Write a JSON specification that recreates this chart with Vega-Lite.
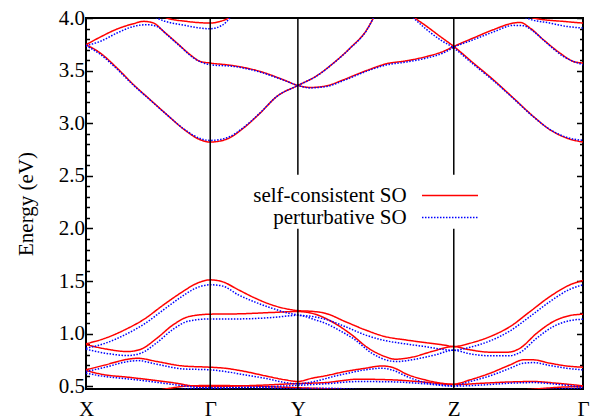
{
"$schema":"https://vega.github.io/schema/vega-lite/v6.json",
"width":497,"height":371,
"autosize":{"type":"none"},
"padding":{"left":86,"top":18,"right":19,"bottom":31},
"config":{"view":{"stroke":"black","strokeWidth":2},"font":"Liberation Serif",
"axis":{"grid":false,"domain":false,"labelFont":"Liberation Serif","labelFontSize":21,"labelColor":"black","tickColor":"black","tickWidth":1.5,"titleFont":"Liberation Serif","titleFontSize":21,"titleFontWeight":"normal","titleColor":"black"}},
"layer":[
{"data":{"values":[
{"s":"sc","b":"U1","k":0,"e":3.746},{"s":"sc","b":"U1","k":14.3,"e":3.667},{"s":"sc","b":"U1","k":31,"e":3.525},{"s":"sc","b":"U1","k":47.6,"e":3.366},{"s":"sc","b":"U1","k":64.3,"e":3.223},{"s":"sc","b":"U1","k":81,"e":3.081},{"s":"sc","b":"U1","k":97.6,"e":2.945},{"s":"sc","b":"U1","k":114.3,"e":2.843},{"s":"sc","b":"U1","k":124.3,"e":2.821},{"s":"sc","b":"U1","k":141,"e":2.85},{"s":"sc","b":"U1","k":157.6,"e":2.954},{"s":"sc","b":"U1","k":174.3,"e":3.097},{"s":"sc","b":"U1","k":191,"e":3.255},{"s":"sc","b":"U1","k":212,"e":3.359},{"s":"sc","b":"U1","k":231,"e":3.452},{"s":"sc","b":"U1","k":247.6,"e":3.572},{"s":"sc","b":"U1","k":264.3,"e":3.715},{"s":"sc","b":"U1","k":281,"e":3.889},{"s":"sc","b":"U1","k":287.6,"e":4.0},{"s":"sc","b":"U1","k":294,"e":4.12},
{"s":"sc","b":"U2","k":0,"e":3.746},{"s":"sc","b":"U2","k":14.3,"e":3.819},{"s":"sc","b":"U2","k":31,"e":3.895},{"s":"sc","b":"U2","k":47.6,"e":3.946},{"s":"sc","b":"U2","k":57.6,"e":3.968},{"s":"sc","b":"U2","k":67.6,"e":3.952},{"s":"sc","b":"U2","k":77.6,"e":3.873},{"s":"sc","b":"U2","k":91,"e":3.762},{"s":"sc","b":"U2","k":104.3,"e":3.651},{"s":"sc","b":"U2","k":114.3,"e":3.587},{"s":"sc","b":"U2","k":124.3,"e":3.572},{"s":"sc","b":"U2","k":147.6,"e":3.547},{"s":"sc","b":"U2","k":174.3,"e":3.492},{"s":"sc","b":"U2","k":197.6,"e":3.413},{"s":"sc","b":"U2","k":212,"e":3.359},{"s":"sc","b":"U2","k":224.3,"e":3.34},{"s":"sc","b":"U2","k":241,"e":3.356},{"s":"sc","b":"U2","k":257.6,"e":3.413},{"s":"sc","b":"U2","k":281,"e":3.502},{"s":"sc","b":"U2","k":301,"e":3.566},{"s":"sc","b":"U2","k":321,"e":3.594},{"s":"sc","b":"U2","k":341,"e":3.635},{"s":"sc","b":"U2","k":357.6,"e":3.683},{"s":"sc","b":"U2","k":368,"e":3.73},{"s":"sc","b":"U2","k":387.6,"e":3.81},{"s":"sc","b":"U2","k":407.6,"e":3.889},{"s":"sc","b":"U2","k":427.6,"e":3.952},{"s":"sc","b":"U2","k":434.3,"e":3.958},{"s":"sc","b":"U2","k":444.3,"e":3.905},{"s":"sc","b":"U2","k":457.6,"e":3.794},{"s":"sc","b":"U2","k":474.3,"e":3.667},{"s":"sc","b":"U2","k":487.6,"e":3.587},{"s":"sc","b":"U2","k":497.3,"e":3.572},
{"s":"sc","b":"U3a","k":70,"e":4.06},{"s":"sc","b":"U3a","k":81,"e":4.0},{"s":"sc","b":"U3a","k":100.6,"e":3.968},{"s":"sc","b":"U3a","k":124.3,"e":3.952},{"s":"sc","b":"U3a","k":134.3,"e":3.968},{"s":"sc","b":"U3a","k":144.3,"e":4.01},{"s":"sc","b":"U3a","k":150,"e":4.06},
{"s":"sc","b":"U3b","k":440,"e":4.05},{"s":"sc","b":"U3b","k":447.6,"e":4.0},{"s":"sc","b":"U3b","k":481,"e":3.965},{"s":"sc","b":"U3b","k":497.3,"e":3.952},
{"s":"sc","b":"Ud","k":320,"e":4.08},{"s":"sc","b":"Ud","k":329.3,"e":4.0},{"s":"sc","b":"Ud","k":341,"e":3.92},{"s":"sc","b":"Ud","k":354.3,"e":3.825},{"s":"sc","b":"Ud","k":368,"e":3.73},{"s":"sc","b":"Ud","k":387.6,"e":3.572},{"s":"sc","b":"Ud","k":407.6,"e":3.413},{"s":"sc","b":"Ud","k":427.6,"e":3.24},{"s":"sc","b":"Ud","k":447.6,"e":3.065},{"s":"sc","b":"Ud","k":464.3,"e":2.938},{"s":"sc","b":"Ud","k":481,"e":2.859},{"s":"sc","b":"Ud","k":497.3,"e":2.821},
{"s":"sc","b":"L1","k":0,"e":0.904},{"s":"sc","b":"L1","k":19.4,"e":0.958},{"s":"sc","b":"L1","k":38.7,"e":1.037},{"s":"sc","b":"L1","k":58.1,"e":1.138},{"s":"sc","b":"L1","k":77.5,"e":1.274},{"s":"sc","b":"L1","k":96.9,"e":1.401},{"s":"sc","b":"L1","k":109.8,"e":1.474},{"s":"sc","b":"L1","k":124.3,"e":1.512},{"s":"sc","b":"L1","k":136,"e":1.496},{"s":"sc","b":"L1","k":152.6,"e":1.417},{"s":"sc","b":"L1","k":169.3,"e":1.338},{"s":"sc","b":"L1","k":186,"e":1.274},{"s":"sc","b":"L1","k":202.6,"e":1.233},{"s":"sc","b":"L1","k":212,"e":1.22},{"s":"sc","b":"L1","k":225.9,"e":1.213},{"s":"sc","b":"L1","k":239.3,"e":1.195},{"s":"sc","b":"L1","k":259.3,"e":1.116},{"s":"sc","b":"L1","k":279.3,"e":1.037},{"s":"sc","b":"L1","k":299.3,"e":0.973},{"s":"sc","b":"L1","k":319.3,"e":0.942},{"s":"sc","b":"L1","k":339.3,"e":0.916},{"s":"sc","b":"L1","k":359.3,"e":0.891},{"s":"sc","b":"L1","k":367.6,"e":0.878},{"s":"sc","b":"L1","k":384.3,"e":0.91},{"s":"sc","b":"L1","k":404.3,"e":0.973},{"s":"sc","b":"L1","k":424.3,"e":1.068},{"s":"sc","b":"L1","k":444.3,"e":1.211},{"s":"sc","b":"L1","k":464.3,"e":1.354},{"s":"sc","b":"L1","k":484.3,"e":1.465},{"s":"sc","b":"L1","k":497.3,"e":1.506},
{"s":"sc","b":"L2","k":0,"e":0.897},{"s":"sc","b":"L2","k":19.4,"e":0.856},{"s":"sc","b":"L2","k":42,"e":0.831},{"s":"sc","b":"L2","k":54.9,"e":0.853},{"s":"sc","b":"L2","k":71,"e":0.958},{"s":"sc","b":"L2","k":87.2,"e":1.085},{"s":"sc","b":"L2","k":103.3,"e":1.164},{"s":"sc","b":"L2","k":124.3,"e":1.186},{"s":"sc","b":"L2","k":152.6,"e":1.189},{"s":"sc","b":"L2","k":186,"e":1.202},{"s":"sc","b":"L2","k":212,"e":1.211},{"s":"sc","b":"L2","k":225.9,"e":1.195},{"s":"sc","b":"L2","k":239.3,"e":1.148},{"s":"sc","b":"L2","k":249.3,"e":1.097},{"s":"sc","b":"L2","k":266,"e":0.989},{"s":"sc","b":"L2","k":282.6,"e":0.863},{"s":"sc","b":"L2","k":299.3,"e":0.783},{"s":"sc","b":"L2","k":309.3,"e":0.758},{"s":"sc","b":"L2","k":326,"e":0.777},{"s":"sc","b":"L2","k":346,"e":0.831},{"s":"sc","b":"L2","k":367.6,"e":0.878},{"s":"sc","b":"L2","k":384.3,"e":0.847},{"s":"sc","b":"L2","k":404.3,"e":0.825},{"s":"sc","b":"L2","k":422.6,"e":0.825},{"s":"sc","b":"L2","k":434.3,"e":0.863},{"s":"sc","b":"L2","k":451,"e":1.005},{"s":"sc","b":"L2","k":467.6,"e":1.116},{"s":"sc","b":"L2","k":484.3,"e":1.173},{"s":"sc","b":"L2","k":497.3,"e":1.186},
{"s":"sc","b":"L3","k":0,"e":0.657},{"s":"sc","b":"L3","k":19.4,"e":0.704},{"s":"sc","b":"L3","k":42,"e":0.758},{"s":"sc","b":"L3","k":51.7,"e":0.767},{"s":"sc","b":"L3","k":71,"e":0.736},{"s":"sc","b":"L3","k":96.9,"e":0.694},{"s":"sc","b":"L3","k":124.3,"e":0.682},{"s":"sc","b":"L3","k":139.3,"e":0.672},{"s":"sc","b":"L3","k":159.3,"e":0.641},{"s":"sc","b":"L3","k":179.3,"e":0.6},{"s":"sc","b":"L3","k":199.3,"e":0.562},{"s":"sc","b":"L3","k":212,"e":0.546},{"s":"sc","b":"L3","k":225.9,"e":0.577},{"s":"sc","b":"L3","k":239.3,"e":0.6},{"s":"sc","b":"L3","k":259.3,"e":0.641},{"s":"sc","b":"L3","k":279.3,"e":0.672},{"s":"sc","b":"L3","k":296,"e":0.694},{"s":"sc","b":"L3","k":306,"e":0.682},{"s":"sc","b":"L3","k":322.6,"e":0.609},{"s":"sc","b":"L3","k":339.3,"e":0.562},{"s":"sc","b":"L3","k":356,"e":0.53},{"s":"sc","b":"L3","k":367.6,"e":0.521},{"s":"sc","b":"L3","k":384.3,"e":0.562},{"s":"sc","b":"L3","k":404.3,"e":0.625},{"s":"sc","b":"L3","k":424.3,"e":0.704},{"s":"sc","b":"L3","k":437.6,"e":0.752},{"s":"sc","b":"L3","k":447.6,"e":0.752},{"s":"sc","b":"L3","k":464.3,"e":0.72},{"s":"sc","b":"L3","k":481,"e":0.694},{"s":"sc","b":"L3","k":497.3,"e":0.682},
{"s":"sc","b":"L4","k":0,"e":0.65},{"s":"sc","b":"L4","k":19.4,"e":0.609},{"s":"sc","b":"L4","k":42,"e":0.587},{"s":"sc","b":"L4","k":64.6,"e":0.562},{"s":"sc","b":"L4","k":90.4,"e":0.53},{"s":"sc","b":"L4","k":106.6,"e":0.505},{"s":"sc","b":"L4","k":124.3,"e":0.498},{"s":"sc","b":"L4","k":150,"e":0.503},{"s":"sc","b":"L4","k":180,"e":0.513},{"s":"sc","b":"L4","k":212,"e":0.527},{"s":"sc","b":"L4","k":239.3,"e":0.536},{"s":"sc","b":"L4","k":272.6,"e":0.568},{"s":"sc","b":"L4","k":306,"e":0.562},{"s":"sc","b":"L4","k":339.3,"e":0.54},{"s":"sc","b":"L4","k":367.6,"e":0.517},{"s":"sc","b":"L4","k":397.6,"e":0.53},{"s":"sc","b":"L4","k":424.3,"e":0.542},{"s":"sc","b":"L4","k":447.6,"e":0.546},{"s":"sc","b":"L4","k":471,"e":0.53},{"s":"sc","b":"L4","k":497.3,"e":0.505},
{"s":"sc","b":"L5","k":64.6,"e":0.451},{"s":"sc","b":"L5","k":84,"e":0.482},{"s":"sc","b":"L5","k":103.3,"e":0.505},{"s":"sc","b":"L5","k":124.3,"e":0.508},{"s":"sc","b":"L5","k":160,"e":0.505},{"s":"sc","b":"L5","k":190,"e":0.495},{"s":"sc","b":"L5","k":212,"e":0.487},{"s":"sc","b":"L5","k":239.3,"e":0.478},{"s":"sc","b":"L5","k":289.3,"e":0.455},{"s":"sc","b":"L5","k":300,"e":0.45},
{"s":"sc","b":"L5b","k":414.3,"e":0.451},{"s":"sc","b":"L5b","k":447.6,"e":0.473},{"s":"sc","b":"L5b","k":474.3,"e":0.492},{"s":"sc","b":"L5b","k":497.3,"e":0.498},
{"s":"pt","b":"U1","k":0,"e":3.738},{"s":"pt","b":"U1","k":14.3,"e":3.655},{"s":"pt","b":"U1","k":31,"e":3.515},{"s":"pt","b":"U1","k":47.6,"e":3.36},{"s":"pt","b":"U1","k":64.3,"e":3.22},{"s":"pt","b":"U1","k":81,"e":3.08},{"s":"pt","b":"U1","k":97.6,"e":2.948},{"s":"pt","b":"U1","k":114.3,"e":2.855},{"s":"pt","b":"U1","k":124.3,"e":2.837},{"s":"pt","b":"U1","k":141,"e":2.862},{"s":"pt","b":"U1","k":157.6,"e":2.96},{"s":"pt","b":"U1","k":174.3,"e":3.1},{"s":"pt","b":"U1","k":191,"e":3.255},{"s":"pt","b":"U1","k":212,"e":3.359},{"s":"pt","b":"U1","k":231,"e":3.45},{"s":"pt","b":"U1","k":247.6,"e":3.57},{"s":"pt","b":"U1","k":264.3,"e":3.712},{"s":"pt","b":"U1","k":281,"e":3.886},{"s":"pt","b":"U1","k":287.6,"e":4.0},{"s":"pt","b":"U1","k":294,"e":4.12},
{"s":"pt","b":"U2","k":0,"e":3.738},{"s":"pt","b":"U2","k":14.3,"e":3.778},{"s":"pt","b":"U2","k":31,"e":3.857},{"s":"pt","b":"U2","k":47.6,"e":3.92},{"s":"pt","b":"U2","k":61,"e":3.936},{"s":"pt","b":"U2","k":71,"e":3.92},{"s":"pt","b":"U2","k":81,"e":3.841},{"s":"pt","b":"U2","k":94.3,"e":3.73},{"s":"pt","b":"U2","k":107.6,"e":3.62},{"s":"pt","b":"U2","k":124.3,"e":3.556},{"s":"pt","b":"U2","k":147.6,"e":3.54},{"s":"pt","b":"U2","k":174.3,"e":3.486},{"s":"pt","b":"U2","k":197.6,"e":3.41},{"s":"pt","b":"U2","k":212,"e":3.359},{"s":"pt","b":"U2","k":224.3,"e":3.336},{"s":"pt","b":"U2","k":241,"e":3.35},{"s":"pt","b":"U2","k":257.6,"e":3.405},{"s":"pt","b":"U2","k":281,"e":3.495},{"s":"pt","b":"U2","k":301,"e":3.555},{"s":"pt","b":"U2","k":321,"e":3.582},{"s":"pt","b":"U2","k":341,"e":3.62},{"s":"pt","b":"U2","k":357.6,"e":3.668},{"s":"pt","b":"U2","k":368,"e":3.722},{"s":"pt","b":"U2","k":387.6,"e":3.794},{"s":"pt","b":"U2","k":407.6,"e":3.867},{"s":"pt","b":"U2","k":427.6,"e":3.93},{"s":"pt","b":"U2","k":437.6,"e":3.927},{"s":"pt","b":"U2","k":447.6,"e":3.873},{"s":"pt","b":"U2","k":461,"e":3.762},{"s":"pt","b":"U2","k":477.6,"e":3.635},{"s":"pt","b":"U2","k":497.3,"e":3.556},
{"s":"pt","b":"U3a","k":62,"e":4.05},{"s":"pt","b":"U3a","k":71,"e":4.0},{"s":"pt","b":"U3a","k":100.6,"e":3.927},{"s":"pt","b":"U3a","k":124.3,"e":3.898},{"s":"pt","b":"U3a","k":136,"e":3.93},{"s":"pt","b":"U3a","k":141,"e":3.968},{"s":"pt","b":"U3a","k":146,"e":4.03},
{"s":"pt","b":"U3b","k":432,"e":4.05},{"s":"pt","b":"U3b","k":440.9,"e":4.0},{"s":"pt","b":"U3b","k":464,"e":3.952},{"s":"pt","b":"U3b","k":481,"e":3.92},{"s":"pt","b":"U3b","k":497.3,"e":3.905},
{"s":"pt","b":"Ud","k":318,"e":4.08},{"s":"pt","b":"Ud","k":327.6,"e":4.0},{"s":"pt","b":"Ud","k":341,"e":3.889},{"s":"pt","b":"Ud","k":354.3,"e":3.794},{"s":"pt","b":"Ud","k":368,"e":3.715},{"s":"pt","b":"Ud","k":387.6,"e":3.56},{"s":"pt","b":"Ud","k":407.6,"e":3.405},{"s":"pt","b":"Ud","k":427.6,"e":3.235},{"s":"pt","b":"Ud","k":447.6,"e":3.062},{"s":"pt","b":"Ud","k":464.3,"e":2.94},{"s":"pt","b":"Ud","k":481,"e":2.866},{"s":"pt","b":"Ud","k":497.3,"e":2.837},
{"s":"pt","b":"L1","k":0,"e":0.862},{"s":"pt","b":"L1","k":19.4,"e":0.91},{"s":"pt","b":"L1","k":38.7,"e":0.989},{"s":"pt","b":"L1","k":58.1,"e":1.091},{"s":"pt","b":"L1","k":77.5,"e":1.227},{"s":"pt","b":"L1","k":96.9,"e":1.36},{"s":"pt","b":"L1","k":109.8,"e":1.433},{"s":"pt","b":"L1","k":124.3,"e":1.465},{"s":"pt","b":"L1","k":136,"e":1.455},{"s":"pt","b":"L1","k":152.6,"e":1.369},{"s":"pt","b":"L1","k":169.3,"e":1.3},{"s":"pt","b":"L1","k":186,"e":1.243},{"s":"pt","b":"L1","k":202.6,"e":1.195},{"s":"pt","b":"L1","k":212,"e":1.179},{"s":"pt","b":"L1","k":229.3,"e":1.16},{"s":"pt","b":"L1","k":239.3,"e":1.138},{"s":"pt","b":"L1","k":259.3,"e":1.068},{"s":"pt","b":"L1","k":279.3,"e":0.989},{"s":"pt","b":"L1","k":299.3,"e":0.935},{"s":"pt","b":"L1","k":319.3,"e":0.904},{"s":"pt","b":"L1","k":339.3,"e":0.878},{"s":"pt","b":"L1","k":367.6,"e":0.843},{"s":"pt","b":"L1","k":384.3,"e":0.872},{"s":"pt","b":"L1","k":404.3,"e":0.932},{"s":"pt","b":"L1","k":424.3,"e":1.027},{"s":"pt","b":"L1","k":444.3,"e":1.164},{"s":"pt","b":"L1","k":464.3,"e":1.306},{"s":"pt","b":"L1","k":484.3,"e":1.423},{"s":"pt","b":"L1","k":497.3,"e":1.465},
{"s":"pt","b":"L2","k":0,"e":0.853},{"s":"pt","b":"L2","k":19.4,"e":0.815},{"s":"pt","b":"L2","k":42,"e":0.793},{"s":"pt","b":"L2","k":54.9,"e":0.815},{"s":"pt","b":"L2","k":71,"e":0.916},{"s":"pt","b":"L2","k":87.2,"e":1.043},{"s":"pt","b":"L2","k":103.3,"e":1.122},{"s":"pt","b":"L2","k":124.3,"e":1.141},{"s":"pt","b":"L2","k":152.6,"e":1.141},{"s":"pt","b":"L2","k":186,"e":1.154},{"s":"pt","b":"L2","k":212,"e":1.175},{"s":"pt","b":"L2","k":229.3,"e":1.132},{"s":"pt","b":"L2","k":239.3,"e":1.1},{"s":"pt","b":"L2","k":252.6,"e":1.037},{"s":"pt","b":"L2","k":269.3,"e":0.942},{"s":"pt","b":"L2","k":286,"e":0.815},{"s":"pt","b":"L2","k":302.6,"e":0.745},{"s":"pt","b":"L2","k":311,"e":0.736},{"s":"pt","b":"L2","k":329.3,"e":0.758},{"s":"pt","b":"L2","k":349.3,"e":0.799},{"s":"pt","b":"L2","k":367.6,"e":0.843},{"s":"pt","b":"L2","k":384.3,"e":0.809},{"s":"pt","b":"L2","k":404.3,"e":0.79},{"s":"pt","b":"L2","k":422.6,"e":0.79},{"s":"pt","b":"L2","k":434.3,"e":0.822},{"s":"pt","b":"L2","k":451,"e":0.958},{"s":"pt","b":"L2","k":467.6,"e":1.068},{"s":"pt","b":"L2","k":484.3,"e":1.125},{"s":"pt","b":"L2","k":497.3,"e":1.138},
{"s":"pt","b":"L3","k":0,"e":0.641},{"s":"pt","b":"L3","k":19.4,"e":0.682},{"s":"pt","b":"L3","k":42,"e":0.736},{"s":"pt","b":"L3","k":51.7,"e":0.745},{"s":"pt","b":"L3","k":71,"e":0.71},{"s":"pt","b":"L3","k":96.9,"e":0.666},{"s":"pt","b":"L3","k":124.3,"e":0.657},{"s":"pt","b":"L3","k":139.3,"e":0.641},{"s":"pt","b":"L3","k":159.3,"e":0.609},{"s":"pt","b":"L3","k":179.3,"e":0.577},{"s":"pt","b":"L3","k":199.3,"e":0.536},{"s":"pt","b":"L3","k":212,"e":0.524},{"s":"pt","b":"L3","k":229.3,"e":0.548},{"s":"pt","b":"L3","k":249.3,"e":0.598},{"s":"pt","b":"L3","k":259.3,"e":0.619},{"s":"pt","b":"L3","k":279.3,"e":0.657},{"s":"pt","b":"L3","k":296,"e":0.672},{"s":"pt","b":"L3","k":306,"e":0.657},{"s":"pt","b":"L3","k":322.6,"e":0.587},{"s":"pt","b":"L3","k":339.3,"e":0.536},{"s":"pt","b":"L3","k":356,"e":0.514},{"s":"pt","b":"L3","k":367.6,"e":0.506},{"s":"pt","b":"L3","k":384.3,"e":0.546},{"s":"pt","b":"L3","k":404.3,"e":0.6},{"s":"pt","b":"L3","k":424.3,"e":0.672},{"s":"pt","b":"L3","k":437.6,"e":0.72},{"s":"pt","b":"L3","k":447.6,"e":0.726},{"s":"pt","b":"L3","k":464.3,"e":0.698},{"s":"pt","b":"L3","k":481,"e":0.672},{"s":"pt","b":"L3","k":497.3,"e":0.657},
{"s":"pt","b":"L4","k":0,"e":0.625},{"s":"pt","b":"L4","k":19.4,"e":0.593},{"s":"pt","b":"L4","k":42,"e":0.571},{"s":"pt","b":"L4","k":64.6,"e":0.546},{"s":"pt","b":"L4","k":90.4,"e":0.514},{"s":"pt","b":"L4","k":109.8,"e":0.492},{"s":"pt","b":"L4","k":124.3,"e":0.482},{"s":"pt","b":"L4","k":160,"e":0.49},{"s":"pt","b":"L4","k":190,"e":0.5},{"s":"pt","b":"L4","k":212,"e":0.51},{"s":"pt","b":"L4","k":239.3,"e":0.524},{"s":"pt","b":"L4","k":272.6,"e":0.546},{"s":"pt","b":"L4","k":306,"e":0.543},{"s":"pt","b":"L4","k":339.3,"e":0.524},{"s":"pt","b":"L4","k":367.6,"e":0.502},{"s":"pt","b":"L4","k":397.6,"e":0.514},{"s":"pt","b":"L4","k":424.3,"e":0.53},{"s":"pt","b":"L4","k":447.6,"e":0.536},{"s":"pt","b":"L4","k":471,"e":0.52},{"s":"pt","b":"L4","k":497.3,"e":0.492},
{"s":"pt","b":"L5","k":77.5,"e":0.451},{"s":"pt","b":"L5","k":100,"e":0.475},{"s":"pt","b":"L5","k":124.3,"e":0.49},{"s":"pt","b":"L5","k":170,"e":0.488},{"s":"pt","b":"L5","k":212,"e":0.478},{"s":"pt","b":"L5","k":239.3,"e":0.482},{"s":"pt","b":"L5","k":279.3,"e":0.465},{"s":"pt","b":"L5","k":300,"e":0.45},
{"s":"pt","b":"L5b","k":431,"e":0.451},{"s":"pt","b":"L5b","k":464.3,"e":0.473},{"s":"pt","b":"L5b","k":497.3,"e":0.482}
]},
"mark":{"type":"line","clip":true,"strokeWidth":1.5,"interpolate":"monotone"},
"encoding":{
"x":{"field":"k","type":"quantitative","scale":{"domain":[0,497.3],"nice":false,"zero":false},"axis":{"title":null,"values":[0,124.3,212,368,497.3],"labelExpr":"datum.value < 1 ? 'X' : datum.value < 150 ? 'Γ' : datum.value < 300 ? 'Y' : datum.value < 400 ? 'Z' : 'Γ'","ticks":false,"tickSize":0,"labelPadding":26,"labelFlush":false,"labelBaseline":"alphabetic","labelFont":"Liberation Serif","labelFontSize":21,"labelColor":"black"}},
"y":{"field":"e","type":"quantitative","scale":{"domain":[0.475,4.0],"nice":false,"zero":false},"axis":{"title":"Energy (eV)","orient":"left","values":[0.5,0.6,0.7,0.8,0.9,1.0,1.1,1.2,1.3,1.4,1.5,1.6,1.7,1.8,1.9,2.0,2.1,2.2,2.3,2.4,2.5,2.6,2.7,2.8,2.9,3.0,3.1,3.2,3.3,3.4,3.5,3.6,3.7,3.8,3.9,4.0],"labelExpr":"round(datum.value*10) % 5 == 0 ? format(datum.value, '.1f') : ''","tickSize":{"condition":{"test":"round(datum.value*10) % 5 == 0","value":-6.5},"value":-3.5},"labelPadding":8,"titlePadding":22,"labelFont":"Liberation Serif","labelFontSize":21,"labelColor":"black","titleFont":"Liberation Serif","titleFontSize":21,"titleFontWeight":"normal"}},
"color":{"field":"s","type":"nominal","scale":{"domain":["sc","pt"],"range":["#ff0000","#0000ff"]},"legend":{"title":null,"orient":"none","legendX":353.5,"legendY":167,"symbolType":"M-10,0L10,0","symbolSize":31.4,"symbolStrokeWidth":1.5,"labelAlign":"right","labelOffset":-53.8,"labelFont":"Liberation Serif","labelFontSize":21,"labelColor":"black","rowPadding":0,"padding":0,"labelExpr":"datum.label == 'sc' ? 'self-consistent SO' : 'perturbative SO'"}},
"strokeDash":{"field":"s","type":"nominal","scale":{"domain":["sc","pt"],"range":[[1,0],[1.5,1.5]]},"legend":{"title":null,"orient":"none","legendX":353.5,"legendY":167,"symbolType":"M-10,0L10,0","symbolSize":31.4,"symbolStrokeWidth":1.5,"labelAlign":"right","labelOffset":-53.8,"labelFont":"Liberation Serif","labelFontSize":21,"labelColor":"black","rowPadding":0,"padding":0,"labelExpr":"datum.label == 'sc' ? 'self-consistent SO' : 'perturbative SO'"}},
"detail":{"field":"b"}
}},
{"data":{"values":[{"k":124.3,"e1":0.475,"e2":4.0},{"k":212,"e1":0.475,"e2":1.997},{"k":212,"e1":2.51,"e2":4.0},{"k":368,"e1":0.475,"e2":1.997},{"k":368,"e1":2.51,"e2":4.0}]},
"mark":{"type":"rule","color":"black","strokeWidth":1.5},
"encoding":{"x":{"field":"k","type":"quantitative"},
"y":{"field":"e1","type":"quantitative","axis":{"title":null,"orient":"right","labels":false,"values":[0.5,0.6,0.7,0.8,0.9,1.0,1.1,1.2,1.3,1.4,1.5,1.6,1.7,1.8,1.9,2.0,2.1,2.2,2.3,2.4,2.5,2.6,2.7,2.8,2.9,3.0,3.1,3.2,3.3,3.4,3.5,3.6,3.7,3.8,3.9,4.0],"tickSize":{"condition":{"test":"round(datum.value*10) % 5 == 0","value":-6.5},"value":-3.5}}},
"y2":{"field":"e2"}}}
],
"resolve":{"axis":{"y":"independent"}}
}
